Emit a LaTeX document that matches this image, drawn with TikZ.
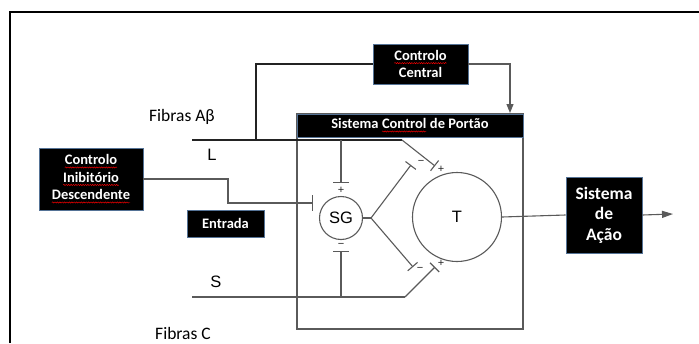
\documentclass[tikz,border=0pt]{standalone}
\usepackage{fontspec}
\setmainfont{Carlito}
\newfontfamily\hel{Liberation Sans}
\usetikzlibrary{arrows.meta,decorations.pathmorphing}
\definecolor{edge}{RGB}{90,90,90}
\definecolor{dark}{RGB}{35,35,35}
\definecolor{boxrim}{RGB}{85,115,150}
\newcommand\redwave[1]{\tikz[baseline=(rw.base)]{\node[shape=rectangle,draw=none,fill=none,inner sep=0pt,outer sep=0pt,minimum width=0pt,minimum height=0pt,anchor=base] (rw) {#1};\path[draw=red,fill=none,line width=0.45pt,decorate,decoration={snake,amplitude=0.6pt,segment length=2.4pt}] ([yshift=-2.6pt]rw.base west) -- ([yshift=-2.6pt]rw.base east);}}
\begin{document}
\begin{tikzpicture}[x=1pt,y=-1pt,
  blk/.style={fill=black,draw=boxrim,line width=0.8pt,text=white,align=center,inner sep=0pt,
    font=\bfseries\fontsize{14.5}{17.5}\selectfont},
  wire/.style={draw=edge,line width=1.1pt},
  heavy/.style={draw=dark,line width=1.8pt},
  neur/.style={circle,draw=edge,line width=1.1pt,inner sep=0pt,font=\hel\fontsize{16.5}{18}\selectfont},
  sign/.style={font=\hel\fontsize{11}{11}\selectfont,inner sep=0pt,text=dark},
  lbl/.style={font=\fontsize{17.5}{20}\selectfont,inner sep=0pt},
  letter/.style={font=\hel\fontsize{16.5}{18}\selectfont,inner sep=0pt},
  bar/.style={-{Bar[width=#1]}},
  bar/.default=13pt
]
\useasboundingbox (0,0) rectangle (699,343);
% outer frame (cropped)
\draw[line width=2pt] (10,343) -- (10,12) -- (699,12);

% gate box and header
\node[draw=edge,line width=1.2pt,minimum width=226pt,minimum height=215pt,inner sep=0pt] (gate) at (410,221.5) {};
\node[blk,minimum width=226pt,minimum height=23pt] (scp) at (410,125.5) {Sistema \redwave{Control} de Portão};

% boxes
\node[blk,minimum width=104pt,minimum height=62pt] (cid) at (91,179) {\redwave{Controlo}\\\redwave{Inibitório}\\\redwave{Descendente}};
\node[blk,minimum width=77pt,minimum height=27pt] (ent) at (225.5,223.5) {Entrada};
\node[blk,minimum width=95pt,minimum height=40pt,font=\bfseries\fontsize{14.5}{17}\selectfont] (cc) at (420.5,64) {\redwave{Controlo}\\Central};
\node[blk,minimum width=76pt,minimum height=76pt,font=\bfseries\fontsize{17.5}{20.5}\selectfont] (sda) at (604,215) {Sistema\\de\\Ação};

% neurons
\node[neur,minimum size=43pt] (sg) at (341,218) {SG};
\node[neur,minimum size=89pt] (t) at (457,217) {T};

% labels
\node[lbl] (fab) at (182,117) {Fibras Aβ};
\node[lbl] (fc) at (183,333) {Fibras C};
\node[letter] (lL) at (212,155) {L};
\node[letter] (lS) at (216,282) {S};

% coordinates
\coordinate (L0) at (192,140);
\coordinate (Lb) at (402,140);
\coordinate (Lt) at (435,166);
\coordinate (S0) at (192,297);
\coordinate (Sb) at (405,297);
\coordinate (St) at (435,267);
\coordinate (loop) at (256,140);
\coordinate (sgp) at (341,140);
\coordinate (sgpb) at (341,183);
\coordinate (sgmb) at (341,251);
\coordinate (sgms) at (341,297);
\coordinate (br) at (371,218);
\coordinate (bu) at (411,165);
\coordinate (bd) at (413,267);
\coordinate (ck) at (228,179);
\coordinate (inh) at (313,203);
\coordinate (ccin) at (510,113);
\coordinate (out) at (673,214);

% connectors
\draw[heavy] (L0) -- (Lb);
\draw[heavy] (loop) |- (cc.west);
\draw[wire,-{Triangle[length=9pt,width=7pt]}] (cc.east) -| (ccin);
\draw[wire,bar] (Lb) -- (Lt);
\draw[wire] (S0) -- (Sb);
\draw[wire,bar] (Sb) -- (St);
\draw[wire,bar=16pt] (sgp) -- (sgpb);
\draw[wire,{Bar[width=16pt]}-] (sgmb) -- (sgms);
\draw[wire,bar=16pt] (cid.east) -- (ck) |- (inh);
\draw[wire] (sg.east) -- (br);
\draw[wire,bar] (br) -- (bu);
\draw[wire,bar] (br) -- (bd);
\draw[wire] (t.east) -- (sda.west);
\draw[wire,-{Triangle[length=11pt,width=7pt]}] (sda.east) -- (out);

% signs
\node[sign] (p1) at (341,190) {+};
\node[sign] (m1) at (341,245) {−};
\node[sign] (m2) at (421,162) {−};
\node[sign] (p2) at (441,169) {+};
\node[sign] (m3) at (420,269) {−};
\node[sign] (p3) at (441,263) {+};
\end{tikzpicture}
\end{document}
